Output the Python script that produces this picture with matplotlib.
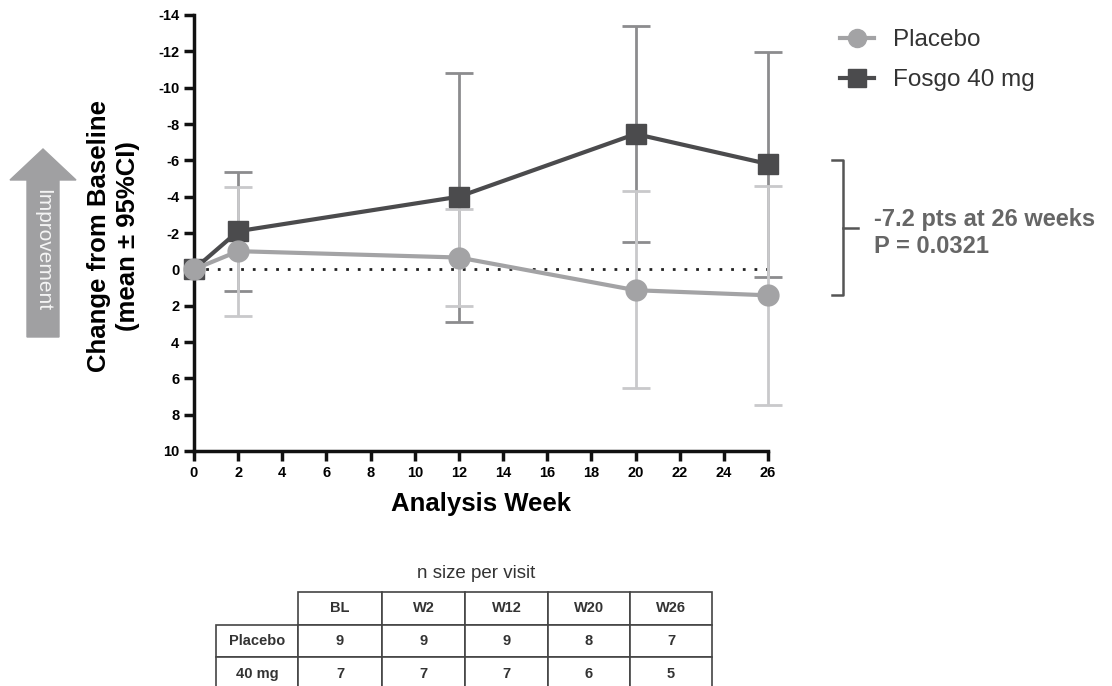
import matplotlib.pyplot as plt
from matplotlib.patches import FancyArrow
from matplotlib.lines import Line2D

plt.rcParams['font.family'] = ['Liberation Sans', 'DejaVu Sans']
plt.rcParams['axes.unicode_minus'] = False

# data (negative = improvement, axis is inverted)
weeks = [0, 2, 12, 20, 26]
placebo_mean = [0.0, -1.0, -0.65, 1.15, 1.43]
placebo_lo = [0.0, -4.55, -3.3, -4.3, -4.57]
placebo_hi = [0.0, 2.55, 2.0, 6.55, 7.45]
fosgo_mean = [0.0, -2.1, -4.0, -7.45, -5.8]
fosgo_lo = [0.0, -5.35, -10.8, -13.4, -11.95]
fosgo_hi = [0.0, 1.2, 2.9, -1.5, 0.4]

table_cols = ['BL', 'W2', 'W12', 'W20', 'W26']
table_rows = ['Placebo', '40 mg']
n_placebo = [9, 9, 9, 8, 7]
n_fosgo = [7, 7, 7, 6, 5]

c_placebo = '#a3a3a5'
c_placebo_err = '#c9c9cb'
c_fosgo = '#4b4b4d'
c_fosgo_err = '#8c8c8e'

fig = plt.figure(figsize=(11.12, 6.86), dpi=100)
ax = fig.add_axes([194 / 1112, 1 - 451 / 686, 574 / 1112, 436 / 686])

# zero reference line
ax.plot([0, 26], [0, 0], color='#222222', lw=2, linestyle=(0, (1, 3.2)), zorder=1)

def draw_series(mean, lo, hi, color, ecolor, marker, ms, label):
    yerr = [[m - l for m, l in zip(mean, lo)][1:], [h - m for m, h in zip(mean, hi)][1:]]
    eb = ax.errorbar(weeks[1:], mean[1:], yerr=yerr, fmt='none',
                     ecolor=ecolor, elinewidth=2, capsize=10, capthick=2, zorder=2)
    for art in eb.get_children():
        art.set_clip_on(False)
    ax.plot(weeks, mean, color=color, lw=3, marker=marker, ms=ms, zorder=3,
            label=label, clip_on=False)

draw_series(fosgo_mean, fosgo_lo, fosgo_hi, c_fosgo, c_fosgo_err, 's', 15, 'Fosgo 40 mg')
draw_series(placebo_mean, placebo_lo, placebo_hi, c_placebo, c_placebo_err, 'o', 15, 'Placebo')

ax.set_xlim(0, 26)
ax.set_ylim(10, -14)
ax.set_xticks(range(0, 27, 2))
ax.set_yticks(range(-14, 11, 2))
for s in ['top', 'right']:
    ax.spines[s].set_visible(False)
for s in ['left', 'bottom']:
    ax.spines[s].set_linewidth(2.5)
    ax.spines[s].set_color('#111111')
ax.tick_params(width=2.5, length=7, labelsize=10.5, color='#111111')
for t in ax.get_xticklabels() + ax.get_yticklabels():
    t.set_fontweight('bold')
ax.set_xlabel('Analysis Week', fontsize=18.5, fontweight='bold', va='center')
ax.xaxis.set_label_coords(0.5, (451 - 504) / 436)
ax.set_ylabel('Change from Baseline\n(mean ± 95%CI)', fontsize=18.5, fontweight='bold',
              linespacing=1.3, va='center')
ax.yaxis.set_label_coords((113.5 - 194) / 574, (451 - 236) / 436)

# legend
handles = [Line2D([], [], color=c_placebo, lw=3, marker='o', ms=13),
           Line2D([], [], color=c_fosgo, lw=3, marker='s', ms=13)]
fig.legend(handles, ['Placebo', 'Fosgo 40 mg'], loc='upper left',
           bbox_to_anchor=(840 / 1112, 1 - 29 / 686), frameon=False, fontsize=17.5,
           handlelength=1.4, labelspacing=0.75, handletextpad=0.78, borderpad=0,
           borderaxespad=0, labelcolor='#333333')

# bracket at week 26
bx0, bx1, bx2 = 28.9, 29.39, 30.07
ytop, ybot = -6.0, 1.4
ax.plot([bx0, bx1, bx1, bx0], [ytop, ytop, ybot, ybot], color='#555555', lw=1.8,
        clip_on=False)
ax.plot([bx1, bx2], [(ytop + ybot) / 2, (ytop + ybot) / 2], color='#555555', lw=1.8,
        clip_on=False)
fig.text(874 / 1112, 1 - 233 / 686, '-7.2 pts at 26 weeks\nP = 0.0321', fontsize=17,
         fontweight='bold', color='#666666', va='center', ha='left', linespacing=1.27)

# improvement arrow
fig.patches.append(FancyArrow(43 / 1112, 1 - 337 / 686, 0, (337 - 149) / 686,
                              width=32 / 1112, head_width=66 / 1112,
                              head_length=31 / 686, length_includes_head=True,
                              color='#a0a0a2', transform=fig.transFigure, figure=fig))
fig.text(43 / 1112, 1 - 250 / 686, 'Improvement', rotation=270, color='#f4f4f4',
         fontsize=15, ha='center', va='center')

# n size table
fig.text(476 / 1112, 1 - 573 / 686, 'n size per visit', fontsize=13.5, ha='center',
         va='center', color='#333333')
tax = fig.add_axes([216 / 1112, -4 / 686, 496 / 1112, 98 / 686])
tax.axis('off')
cells = [[''] + table_cols]
cells.append([table_rows[0]] + [str(v) for v in n_placebo])
cells.append([table_rows[1]] + [str(v) for v in n_fosgo])
widths = [82, 84, 83, 83, 82, 82]
tab = tax.table(cellText=cells, cellLoc='center', colWidths=[w / 496 for w in widths],
                bbox=[0, 0, 1, 1])
tab.auto_set_font_size(False)
for (r, c), cell in tab.get_celld().items():
    cell.set_linewidth(1.2)
    cell.set_edgecolor('#444444')
    cell.get_text().set_fontsize(10.5)
    cell.get_text().set_fontweight('bold')
    cell.get_text().set_color('#333333')
tab[0, 0].set_visible(False)

fig.savefig('out.png', dpi=100)
